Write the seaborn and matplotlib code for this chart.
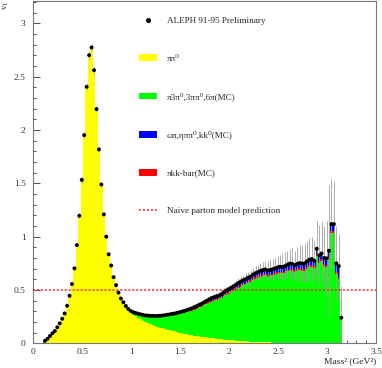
# coding: utf-8
import numpy as np
import pandas as pd
import matplotlib
matplotlib.use("Agg")
import matplotlib.pyplot as plt
import seaborn as sns
from matplotlib.lines import Line2D
from matplotlib.patches import Patch
from matplotlib.ticker import MultipleLocator, AutoMinorLocator

# binning of the spectral function (GeV^2)
bin_width = 0.025
first_edge = 0.1075
n_bins = 122

# ALEPH v1 data points
v1 = [
    0.024, 0.043, 0.068, 0.094, 0.115, 0.150, 0.187, 0.230, 0.280, 0.352,
    0.446, 0.556, 0.703, 0.921, 1.196, 1.533, 1.952, 2.405, 2.702, 2.774,
    2.561, 2.196, 1.818, 1.490, 1.209, 1.000, 0.835, 0.730, 0.620, 0.545,
    0.475, 0.420, 0.385, 0.350, 0.322, 0.303, 0.292, 0.284, 0.278, 0.272,
    0.266, 0.262, 0.260, 0.258, 0.257, 0.256, 0.257, 0.258, 0.261, 0.264,
    0.268, 0.272, 0.276, 0.280, 0.286, 0.292, 0.298, 0.305, 0.312, 0.320,
    0.328, 0.340, 0.350, 0.362, 0.372, 0.385, 0.398, 0.412, 0.424, 0.432,
    0.440, 0.448, 0.460, 0.480, 0.495, 0.508, 0.520, 0.535, 0.550, 0.565,
    0.580, 0.592, 0.602, 0.615, 0.628, 0.645, 0.658, 0.668, 0.680, 0.688,
    0.693, 0.682, 0.688, 0.695, 0.703, 0.712, 0.718, 0.716, 0.724, 0.738,
    0.748, 0.745, 0.734, 0.745, 0.752, 0.748, 0.750, 0.768, 0.785, 0.790,
    0.774, 0.887, 0.825, 0.843, 0.800, 0.797, 0.868, 1.118, 1.118, 0.750,
    0.724, 0.240,
]
v1_err = [
    0.004, 0.005, 0.006, 0.006, 0.007, 0.008, 0.008, 0.009, 0.010, 0.011,
    0.012, 0.014, 0.016, 0.019, 0.022, 0.026, 0.030, 0.034, 0.036, 0.037,
    0.035, 0.031, 0.027, 0.023, 0.019, 0.016, 0.013, 0.011, 0.010, 0.009,
    0.008, 0.008, 0.007, 0.007, 0.007, 0.007, 0.007, 0.007, 0.007, 0.007,
    0.007, 0.007, 0.008, 0.008, 0.008, 0.008, 0.009, 0.009, 0.009, 0.010,
    0.010, 0.011, 0.011, 0.012, 0.012, 0.013, 0.014, 0.014, 0.015, 0.016,
    0.017, 0.018, 0.019, 0.020, 0.021, 0.022, 0.023, 0.024, 0.026, 0.027,
    0.029, 0.030, 0.032, 0.034, 0.036, 0.038, 0.040, 0.042, 0.044, 0.047,
    0.049, 0.052, 0.055, 0.058, 0.061, 0.064, 0.067, 0.070, 0.073, 0.078,
    0.082, 0.086, 0.090, 0.095, 0.100, 0.105, 0.110, 0.120, 0.130, 0.125,
    0.140, 0.150, 0.135, 0.160, 0.170, 0.165, 0.180, 0.190, 0.200, 0.210,
    0.190, 0.260, 0.280, 0.290, 0.300, 0.350, 0.620, 0.420, 0.400, 0.350,
    0.300, 0.300,
]

# components above 1 GeV^2 (bins 36..121); below that the pipi0 fills the data
first_mc_bin = 36
pipi0_tail = [
    0.270, 0.255, 0.240, 0.225, 0.212, 0.200, 0.190, 0.180, 0.170, 0.162,
    0.155, 0.148, 0.141, 0.135, 0.128, 0.122, 0.116, 0.111, 0.106, 0.101,
    0.096, 0.091, 0.086, 0.081, 0.077, 0.073, 0.069, 0.065, 0.061, 0.058,
    0.055, 0.052, 0.049, 0.046, 0.043, 0.040, 0.037, 0.035, 0.033, 0.031,
    0.029, 0.027, 0.025, 0.023, 0.022, 0.020, 0.019, 0.018, 0.016, 0.015,
    0.014, 0.013, 0.012, 0.011, 0.010, 0.009, 0.008, 0.007, 0.006, 0.005,
    0.004, 0.003, 0.002, 0.001,
]
omega_pi = [
    0.004, 0.004, 0.005, 0.005, 0.005, 0.006, 0.006, 0.006, 0.007, 0.007,
    0.007, 0.008, 0.008, 0.009, 0.009, 0.010, 0.010, 0.011, 0.012, 0.012,
    0.013, 0.014, 0.014, 0.015, 0.016, 0.017, 0.018, 0.019, 0.020, 0.021,
    0.022, 0.023, 0.024, 0.025, 0.026, 0.027, 0.028, 0.029, 0.030, 0.031,
    0.032, 0.033, 0.034, 0.035, 0.036, 0.036, 0.037, 0.038, 0.038, 0.039,
    0.040, 0.040, 0.041, 0.041, 0.042, 0.042, 0.043, 0.043, 0.044, 0.044,
    0.045, 0.045, 0.046, 0.046, 0.047, 0.047, 0.048, 0.048, 0.049, 0.049,
    0.050, 0.050, 0.051, 0.052, 0.052, 0.053, 0.054, 0.055, 0.056, 0.058,
    0.060, 0.062, 0.064, 0.080, 0.100, 0.010,
]
pi_kk = [
    0.000, 0.000, 0.001, 0.001, 0.001, 0.001, 0.001, 0.002, 0.002, 0.002,
    0.002, 0.002, 0.003, 0.003, 0.003, 0.003, 0.004, 0.004, 0.004, 0.004,
    0.005, 0.005, 0.005, 0.005, 0.006, 0.006, 0.006, 0.007, 0.007, 0.007,
    0.008, 0.008, 0.008, 0.009, 0.009, 0.009, 0.010, 0.010, 0.010, 0.011,
    0.011, 0.011, 0.012, 0.012, 0.012, 0.012, 0.013, 0.013, 0.013, 0.013,
    0.014, 0.014, 0.014, 0.014, 0.015, 0.015, 0.015, 0.015, 0.015, 0.016,
    0.016, 0.016, 0.016, 0.016, 0.017, 0.017, 0.017, 0.017, 0.017, 0.018,
    0.018, 0.018, 0.018, 0.018, 0.018, 0.019, 0.019, 0.019, 0.019, 0.019,
    0.020, 0.020, 0.020, 0.020, 0.020, 0.000,
]
parton_level = 0.5

labels = {
    "data": "ALEPH 91-95 Preliminary",
    "yellow": "ππ⁰",
    "green": "π3π⁰,3ππ⁰,6π(MC)",
    "blue": "ωπ,ηππ⁰,kk⁰(MC)",
    "red": "πkk-bar(MC)",
    "parton": "Naive parton model prediction",
}
colors = {"yellow": "#ffff00", "green": "#00ff00", "blue": "#0000ff", "red": "#ff0000"}

# build the stacked components
edges = first_edge + bin_width * np.arange(n_bins + 1)
mass = 0.5 * (edges[:-1] + edges[1:])
v1 = np.array(v1)

yellow = v1.copy()
yellow[first_mc_bin:] = 0.0
yellow[first_mc_bin:first_mc_bin + len(pipi0_tail)] = pipi0_tail
blue = np.zeros(n_bins)
blue[first_mc_bin:] = omega_pi
red = np.zeros(n_bins)
red[first_mc_bin:] = pi_kk
green = np.clip(v1 - yellow - blue - red, 0, None)

df = pd.concat([
    pd.DataFrame({"mass": mass, "value": blue, "comp": "blue"}),
    pd.DataFrame({"mass": mass, "value": red, "comp": "red"}),
    pd.DataFrame({"mass": mass, "value": green, "comp": "green"}),
    pd.DataFrame({"mass": mass, "value": yellow, "comp": "yellow"}),
], ignore_index=True)

sns.set_style("ticks")
plt.rcParams["font.family"] = ["Liberation Serif", "DejaVu Serif"]
plt.rcParams["mathtext.fontset"] = "stix"

fig = plt.figure(figsize=(3.82, 3.68), dpi=100)
ax = fig.add_axes([0.0872, 0.0671, 0.8971, 0.9302])

sns.histplot(data=df, x="mass", weights="value", hue="comp",
             hue_order=["blue", "red", "green", "yellow"], palette=colors,
             multiple="stack", binwidth=bin_width,
             binrange=(edges[0], edges[-1]), element="step", alpha=1,
             linewidth=0, legend=False, ax=ax, zorder=1)

ax.errorbar(mass, v1, yerr=v1_err, fmt="none", ecolor="#a0a0a0",
            elinewidth=0.6, zorder=2)
ax.axhline(parton_level, color="#ff2020", ls=(0, (1.3, 1.3)), lw=1.1, zorder=3)
sns.scatterplot(x=mass, y=v1, color="black", s=8, edgecolor="none",
                ax=ax, zorder=4)

ax.set_xlim(0, 3.5)
ax.set_ylim(0, 3.21)
ax.xaxis.set_major_locator(MultipleLocator(0.5))
ax.yaxis.set_major_locator(MultipleLocator(0.5))
ax.xaxis.set_minor_locator(AutoMinorLocator(5))
ax.yaxis.set_minor_locator(AutoMinorLocator(5))
ax.xaxis.set_major_formatter(matplotlib.ticker.FuncFormatter(lambda v, p: f"{v:g}"))
ax.yaxis.set_major_formatter(matplotlib.ticker.FuncFormatter(lambda v, p: f"{v:g}"))
ax.tick_params(which="both", direction="in", colors="#333333", labelsize=6.8,
               width=0.6, top=False, right=False)
ax.tick_params(which="major", length=5)
ax.tick_params(which="minor", length=2.5)
ax.tick_params(axis="y", pad=5.5)
ax.tick_params(axis="x", pad=3.5)
for s in ax.spines.values():
    s.set_color("#777777")
    s.set_linewidth(0.8)

ax.set_xlabel("Mass² (GeV²)", loc="right", fontsize=6.8, labelpad=1)
ax.set_ylabel("")
fig.text(0.004, 0.997, r"v$_1$", rotation=90, ha="left", va="top", fontsize=6.5)

handles = [
    Line2D([], [], marker="o", ls="none", color="black", markersize=2.6),
    Patch(facecolor=colors["yellow"], edgecolor="none"),
    Patch(facecolor=colors["green"], edgecolor="none"),
    Patch(facecolor=colors["blue"], edgecolor="none"),
    Patch(facecolor=colors["red"], edgecolor="none"),
    Line2D([], [], color="#ff2020", ls=(0, (1.3, 1.3)), lw=1.1),
]
ax.legend(handles, [labels[k] for k in ["data", "yellow", "green", "blue", "red", "parton"]],
          loc="upper left", bbox_to_anchor=(0.308, 0.955), frameon=False,
          fontsize=6.6, borderpad=0, borderaxespad=0, labelspacing=3.22,
          handlelength=1.96, handleheight=0.7, handletextpad=1.09)

fig.savefig("out.png", dpi=100)
